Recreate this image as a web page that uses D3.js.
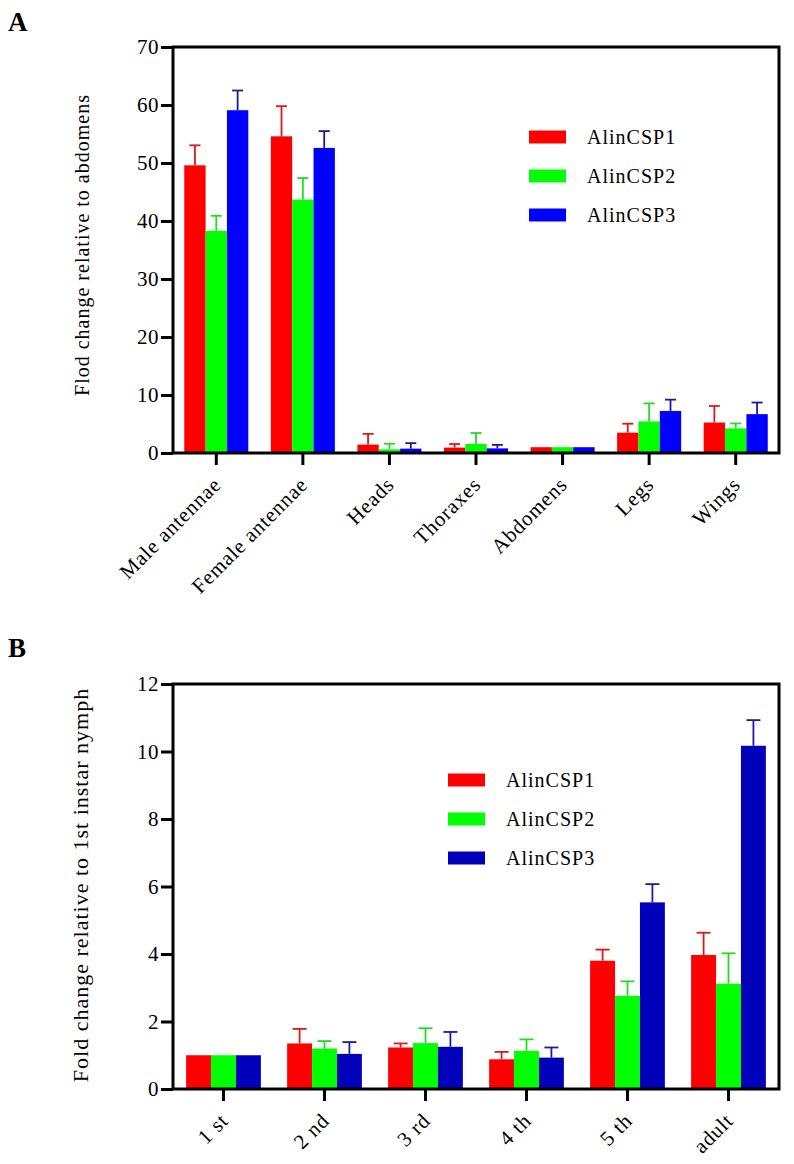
<!DOCTYPE html>
<html>
<head>
<meta charset="utf-8">
<script src="https://cdn.jsdelivr.net/npm/d3@7"></script>
<style>
  body { margin: 0; background: #fff; }
  text { font-family: "Liberation Serif", "Times New Roman", serif; fill: #000; }
</style>
</head>
<body>
<svg id="fig" width="794" height="1164"></svg>
<script>
// series names shared by both panels
const genes = ["AlinCSP1", "AlinCSP2", "AlinCSP3"];

// panel A: tissues
const tissues = ["Male antennae", "Female antennae", "Heads", "Thoraxes", "Abdomens", "Legs", "Wings"];
const csp1Tissue = [49.6, 54.6, 1.45, 0.93, 1.0, 3.5, 5.25];
const csp2Tissue = [38.3, 43.7, 0.63, 1.55, 1.0, 5.45, 4.25];
const csp3Tissue = [59.1, 52.6, 0.75, 0.8, 1.0, 7.25, 6.7];
const csp1TissueErr = [3.45, 5.2, 1.85, 0.62, 0, 1.55, 2.85];
const csp2TissueErr = [2.6, 3.7, 0.97, 1.9, 0, 3.1, 0.85];
const csp3TissueErr = [3.4, 2.9, 0.95, 0.6, 0, 1.95, 2.0];
const tissueTicks = [0, 10, 20, 30, 40, 50, 60, 70];

// panel B: developmental stages
const stages = ["1 st", "2 nd", "3 rd", "4 th", "5 th", "adult"];
const csp1Stage = [1.0, 1.35, 1.23, 0.88, 3.8, 3.97];
const csp2Stage = [1.0, 1.2, 1.36, 1.13, 2.76, 3.12];
const csp3Stage = [1.0, 1.04, 1.25, 0.93, 5.53, 10.17];
const csp1StageErr = [0, 0.43, 0.12, 0.22, 0.33, 0.66];
const csp2StageErr = [0, 0.22, 0.44, 0.34, 0.43, 0.9];
const csp3StageErr = [0, 0.35, 0.44, 0.3, 0.54, 0.76];
const stageTicks = [0, 2, 4, 6, 8, 10, 12];

const svg = d3.select("#fig");

function drawPanel(p) {
  let x = d3.scaleBand()
            .domain(p.categories)
            .range([p.left, p.right])
            .paddingInner(0.26)
            .paddingOuter(0.13);

  let xs = d3.scaleBand()
             .domain(genes)
             .range([0, x.bandwidth()]);

  let y = d3.scaleLinear()
            .domain([0, p.ticks[p.ticks.length - 1]])
            .range([p.bottom, p.top]);

  let g = svg.append("g");

  // bars + upper error bars
  p.series.forEach(function(vals, si) {
    let gene = genes[si];
    let rows = p.categories.map(function(c, i) {
      return { cat: c, v: vals[i], e: p.errors[si][i] };
    });

    g.selectAll(".bar" + si)
     .data(rows)
     .enter().append("rect")
     .attr("x", function(d) { return x(d.cat) + xs(gene); })
     .attr("y", function(d) { return y(d.v); })
     .attr("width", xs.bandwidth())
     .attr("height", function(d) { return y(0) - y(d.v); })
     .attr("fill", p.colors[si]);

    let err = rows.filter(function(d) { return d.e > 0; });
    let cx = function(d) { return x(d.cat) + xs(gene) + xs.bandwidth() / 2; };

    g.selectAll(".stem" + si)
     .data(err)
     .enter().append("line")
     .attr("x1", cx).attr("x2", cx)
     .attr("y1", function(d) { return y(d.v); })
     .attr("y2", function(d) { return y(d.v + d.e); })
     .attr("stroke", p.errColors[si])
     .attr("stroke-width", 1.8);

    g.selectAll(".cap" + si)
     .data(err)
     .enter().append("line")
     .attr("x1", function(d) { return cx(d) - p.cap / 2; })
     .attr("x2", function(d) { return cx(d) + p.cap / 2; })
     .attr("y1", function(d) { return y(d.v + d.e); })
     .attr("y2", function(d) { return y(d.v + d.e); })
     .attr("stroke", p.errColors[si])
     .attr("stroke-width", 1.8);
  });

  // y axis
  let ya = g.append("g")
            .attr("transform", "translate(" + p.left + ",0)")
            .call(d3.axisLeft(y).tickValues(p.ticks).tickSize(12).tickSizeOuter(0).tickPadding(2));
  ya.select(".domain").remove();
  ya.selectAll(".tick line").attr("stroke", "#000").attr("stroke-width", 3);
  ya.selectAll(".tick text")
    .style("font-family", "Liberation Serif")
    .style("font-size", "21px")
    .style("letter-spacing", "0.5px");

  // x axis
  let xa = g.append("g")
            .attr("transform", "translate(0," + p.bottom + ")")
            .call(d3.axisBottom(x).tickSize(12).tickSizeOuter(0));
  xa.select(".domain").remove();
  xa.selectAll(".tick line").attr("stroke", "#000").attr("stroke-width", 3);
  xa.selectAll(".tick text")
    .style("font-family", "Liberation Serif")
    .style("font-size", "21px")
    .style("letter-spacing", "0.8px")
    .attr("text-anchor", "end")
    .attr("dy", null)
    .attr("y", null)
    .attr("transform", "translate(6,33) rotate(-45)");

  // frame
  g.append("rect")
   .attr("x", p.left)
   .attr("y", p.top)
   .attr("width", p.right - p.left)
   .attr("height", p.bottom - p.top)
   .attr("fill", "none")
   .attr("stroke", "#000")
   .attr("stroke-width", 3);

  // y title
  g.append("text")
   .attr("transform", "translate(" + p.titleX + "," + p.titleY + ") rotate(-90)")
   .attr("text-anchor", "middle")
   .attr("dy", "0.35em")
   .style("font-size", p.titleSize + "px")
   .style("letter-spacing", "1px")
   .text(p.yTitle);

  // panel letter
  g.append("text")
   .attr("x", 8)
   .attr("y", p.letterY)
   .style("font-size", "27px")
   .style("font-weight", "bold")
   .text(p.letter);

  // legend
  let lg = g.append("g")
            .attr("transform", "translate(" + p.legX + "," + p.legY + ")");
  genes.forEach(function(name, i) {
    lg.append("rect")
      .attr("x", 0)
      .attr("y", i * 39 - 6.5)
      .attr("width", 37)
      .attr("height", 13)
      .attr("fill", p.colors[i]);
    lg.append("text")
      .attr("x", 58)
      .attr("y", i * 39)
      .attr("dy", "0.35em")
      .style("font-size", "20px")
      .style("letter-spacing", "1px")
      .text(name);
  });
}

drawPanel({
  categories: tissues,
  series: [csp1Tissue, csp2Tissue, csp3Tissue],
  errors: [csp1TissueErr, csp2TissueErr, csp3TissueErr],
  ticks: tissueTicks,
  colors: ["#ff0000", "#00ff00", "#0000ff"],
  errColors: ["#e01818", "#22dd22", "#1a1a99"],
  left: 173, right: 779, top: 47, bottom: 453,
  cap: 11,
  yTitle: "Flod change relative to abdomens",
  titleX: 82, titleY: 245, titleSize: 20,
  letter: "A", letterY: 31,
  legX: 529, legY: 137
});

drawPanel({
  categories: stages,
  series: [csp1Stage, csp2Stage, csp3Stage],
  errors: [csp1StageErr, csp2StageErr, csp3StageErr],
  ticks: stageTicks,
  colors: ["#ff0000", "#00ff00", "#0000bb"],
  errColors: ["#e01818", "#22dd22", "#1a1aaa"],
  left: 173, right: 779, top: 684, bottom: 1089,
  cap: 14,
  yTitle: "Fold change relative to 1st instar nymph",
  titleX: 80, titleY: 885, titleSize: 22,
  letter: "B", letterY: 657,
  legX: 448, legY: 780
});
</script>
</body>
</html>
